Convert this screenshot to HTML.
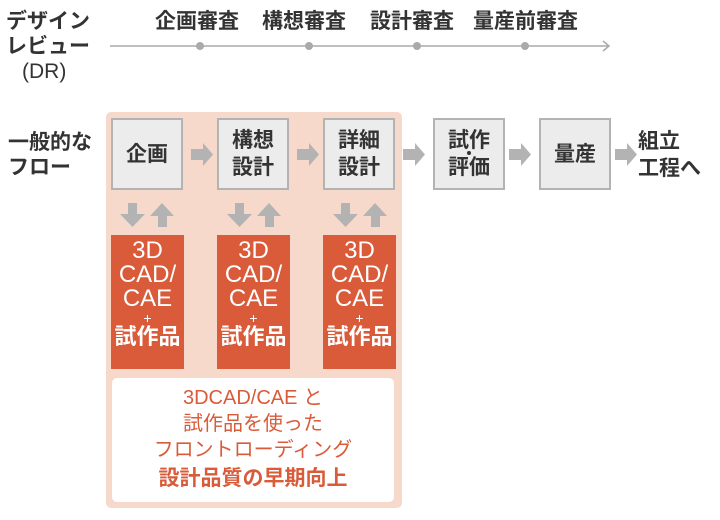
<!DOCTYPE html>
<html><head><meta charset="utf-8"><style>
body{margin:0;width:720px;height:520px;background:#fff;position:relative;overflow:hidden;font-family:"Liberation Sans","Noto Sans CJK JP",sans-serif;}
.a{position:absolute}
.t{position:absolute;font-size:21px;color:#333;line-height:25px;font-weight:bold}
.g{position:absolute;width:68px;height:68px;background:#ececec;border:2px solid #b3b3b3;display:flex;align-items:center;justify-content:center;text-align:center;font-size:21px;line-height:27px;color:#333;font-weight:bold}
.r{position:absolute;width:73px;height:134px;top:235px;background:#d95b39;color:#fff;text-align:center;font-size:24px;line-height:24px;padding-top:4px;box-sizing:border-box;font-weight:normal}
.r span{font-size:14px;line-height:14px;display:block}
.r b{font-size:22px}
</style></head><body>
<div class="t" style="left:6px;top:9px;width:100px;text-align:left">デザイン<br>レビュー<br><span style="margin-left:16px;font-weight:normal">(DR)</span></div>
<div class="t" style="left:155px;top:9px">企画審査</div>
<div class="t" style="left:262px;top:9px">構想審査</div>
<div class="t" style="left:370px;top:9px">設計審査</div>
<div class="t" style="left:473px;top:9px">量産前審査</div>
<svg class="a" style="left:0;top:0" width="720" height="520">
<line x1="110" y1="46" x2="608" y2="46" stroke="#aaa" stroke-width="1.5"/>
<circle cx="200" cy="46" r="4" fill="#aaa"/><circle cx="309" cy="46" r="4" fill="#aaa"/><circle cx="417" cy="46" r="4" fill="#aaa"/><circle cx="525" cy="46" r="4" fill="#aaa"/>
<polyline points="603,41 609,46 603,51" fill="none" stroke="#aaa" stroke-width="1.5"/>
<rect x="106" y="112" width="296" height="396" rx="5" fill="#f7d9cc"/>
<rect x="112" y="378" width="282" height="124" rx="5" fill="#fff"/>
<g fill="#b3b3b3">
<polygon id="ra" points="191,149 203,149 203,143 213,154.5 203,166 203,160 191,160"/>
<use href="#ra" x="106"/><use href="#ra" x="212"/><use href="#ra" x="318"/><use href="#ra" x="424"/>
<g id="ud"><polygon points="128,203 137,203 137,214 145,214 132.5,227 120,214 128,214"/>
<polygon points="158,227 167,227 167,216 174,216 162,203 150,216 158,216"/></g>
<use href="#ud" x="107"/><use href="#ud" x="213"/>
</g>
</svg>
<div class="t" style="left:8px;top:130px;width:100px;text-align:left">一般的な<br>フロー</div>
<div class="g" style="left:111px;top:118px">企画</div>
<div class="g" style="left:217px;top:118px">構想<br>設計</div>
<div class="g" style="left:323px;top:118px">詳細<br>設計</div>
<div class="g" style="left:433px;top:118px">試作<br>評価</div>
<div class="a" style="left:467px;top:151px;width:4px;height:4px;border-radius:2px;background:#333"></div>
<div class="g" style="left:539px;top:118px">量産</div>
<div class="t" style="left:638px;top:128px;line-height:27px">組立<br>工程へ</div>
<div class="r" style="left:111px">3D<br>CAD/<br>CAE<span>+</span><b>試作品</b></div>
<div class="r" style="left:217px">3D<br>CAD/<br>CAE<span>+</span><b>試作品</b></div>
<div class="r" style="left:323px">3D<br>CAD/<br>CAE<span>+</span><b>試作品</b></div>
<div class="a" style="left:112px;top:385px;width:282px;text-align:center;color:#d95b39;font-size:20px;line-height:26px">3DCAD/CAE と<br>試作品を使った<br>フロントローディング<br><b style="font-size:21px;line-height:32px">設計品質の早期向上</b></div>
</body></html>
